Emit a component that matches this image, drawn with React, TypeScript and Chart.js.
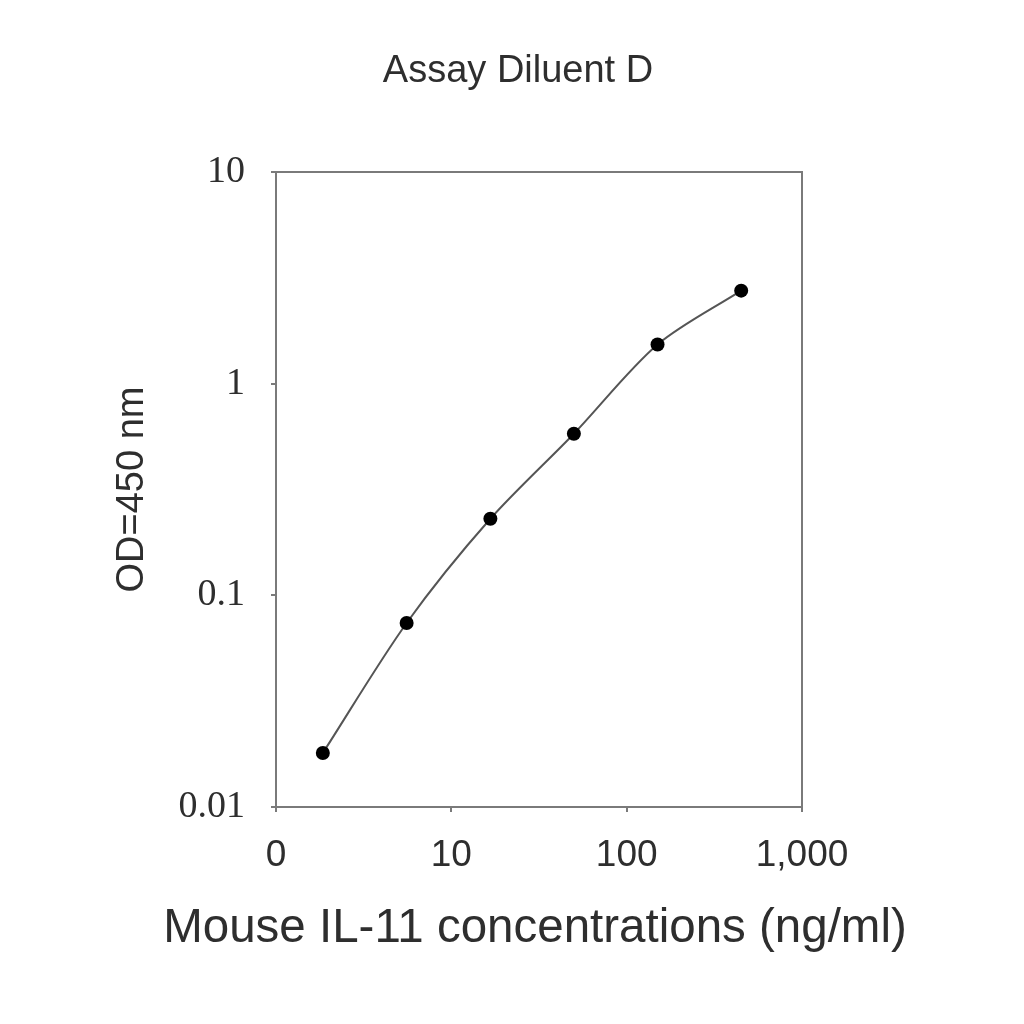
import React, { useEffect, useRef } from 'react';
import { Chart, registerables, Plugin } from 'chart.js';

Chart.register(...registerables);

// chart texts
const chartTitle = 'Assay Diluent D';
const xAxisTitle = 'Mouse IL-11 concentrations (ng/ml)';
const yAxisTitle = 'OD=450 nm';

// standard curve (3-fold dilutions)
const concentrations = [1.85, 5.56, 16.7, 50, 150, 450];
const odValues = [0.018, 0.074, 0.23, 0.58, 1.53, 2.75];

// tick values and their labels
const xTickValues = [1, 10, 100, 1000];
const xTickLabels = ['0', '10', '100', '1,000'];
const yTickValues = [0.01, 0.1, 1, 10];
const yTickLabels = ['0.01', '0.1', '1', '10'];

const AXIS = '#7a7a7a';
const TEXT = '#2e2e2e';
const SANS = '"Liberation Sans", Arial, Helvetica, sans-serif';
const SERIF = '"Liberation Serif", "Times New Roman", serif';

const labelFor = (values: number[], labels: string[], v: number) => {
  const i = values.findIndex((t) => Math.abs(t - v) / t < 1e-6);
  return i >= 0 ? labels[i] : '';
};

// top/right sides of the box, the chart title and the wide x-axis title
const framePlugin: Plugin = {
  id: 'frame',
  afterDraw(chart) {
    const { ctx, chartArea: a } = chart;
    ctx.save();
    ctx.strokeStyle = AXIS;
    ctx.lineWidth = 2;
    ctx.beginPath();
    ctx.moveTo(a.left, a.top);
    ctx.lineTo(a.right, a.top);
    ctx.lineTo(a.right, a.bottom);
    ctx.stroke();

    ctx.fillStyle = TEXT;
    ctx.textAlign = 'center';
    ctx.textBaseline = 'middle';
    ctx.font = `38px ${SANS}`;
    ctx.fillText(chartTitle, 518, 72);
    ctx.font = `47.5px ${SANS}`;
    ctx.fillText(xAxisTitle, 535, 929);
    ctx.restore();
  },
};

export default function App() {
  const chartRef = useRef<HTMLCanvasElement | null>(null);

  useEffect(() => {
    if (!chartRef.current) return;
    const ctx = chartRef.current.getContext('2d');
    if (!ctx) return;

    const chartInstance = new Chart(ctx, {
      type: 'scatter',
      data: {
        datasets: [
          {
            data: concentrations.map((x, i) => ({ x, y: odValues[i] })),
            showLine: true,
            borderColor: '#555555',
            borderWidth: 2,
            tension: 0.3,
            pointRadius: 7,
            pointBackgroundColor: '#000000',
            pointBorderColor: '#000000',
            pointBorderWidth: 0,
          },
        ],
      },
      options: {
        responsive: false,
        animation: false,
        layout: { padding: { top: 172, right: 222, left: 0, bottom: 0 } },
        plugins: {
          legend: { display: false },
          tooltip: { enabled: false },
          title: { display: false },
        },
        scales: {
          x: {
            type: 'logarithmic',
            position: 'bottom',
            min: 1,
            max: 1000,
            afterBuildTicks: (s) => {
              s.ticks = xTickValues.map((value) => ({ value }));
            },
            afterFit: (s) => {
              s.height = 217;
            },
            ticks: {
              callback: (v) => labelFor(xTickValues, xTickLabels, Number(v)),
              autoSkip: false,
              maxRotation: 0,
              color: TEXT,
              padding: 22,
              font: { family: SANS, size: 37 },
            },
            grid: {
              drawOnChartArea: false,
              tickLength: 5,
              color: AXIS,
              lineWidth: 2,
            },
            border: { color: AXIS, width: 2 },
            title: { display: false },
          },
          y: {
            type: 'logarithmic',
            position: 'left',
            min: 0.01,
            max: 10,
            afterBuildTicks: (s) => {
              s.ticks = yTickValues.map((value) => ({ value }));
            },
            afterFit: (s) => {
              s.width = 276;
            },
            ticks: {
              callback: (v) => labelFor(yTickValues, yTickLabels, Number(v)),
              autoSkip: false,
              color: TEXT,
              padding: 26,
              font: { family: SERIF, size: 38 },
            },
            grid: {
              drawOnChartArea: false,
              tickLength: 5,
              color: AXIS,
              lineWidth: 2,
            },
            border: { color: AXIS, width: 2 },
            title: {
              display: true,
              text: yAxisTitle,
              color: TEXT,
              font: { family: SANS, size: 38 },
              padding: { top: 110, bottom: 0 },
            },
          },
        },
      },
      plugins: [framePlugin],
    });

    return () => {
      chartInstance.destroy();
    };
  }, []);

  return (
    <div style={{ position: 'absolute', left: 0, top: 0, width: 1024, height: 1024, background: '#ffffff' }}>
      <canvas ref={chartRef} width={1024} height={1024} />
    </div>
  );
}
